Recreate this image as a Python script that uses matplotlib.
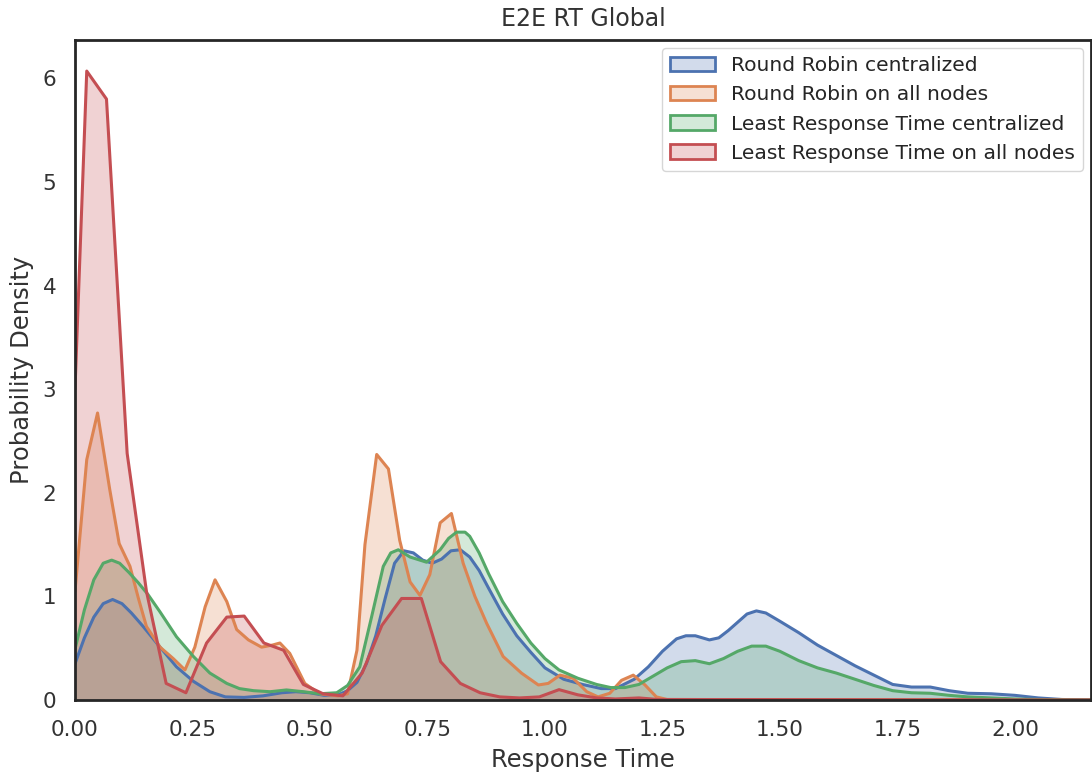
import matplotlib
matplotlib.use('Agg')
import matplotlib.pyplot as plt
import matplotlib.colors as mcolors
import seaborn as sns

sns.set_style('white')
plt.rcParams['font.family'] = ['DejaVu Sans']

labels = ['Round Robin centralized', 'Round Robin on all nodes',
          'Least Response Time centralized', 'Least Response Time on all nodes']
colors = ['#4C72B0', '#DD8452', '#55A868', '#C44E52']

# Round Robin centralized
rr_cent_x = [0.0, 0.02, 0.04, 0.06, 0.08, 0.10, 0.12, 0.145, 0.181, 0.216, 0.252, 0.287,
             0.32, 0.36, 0.40, 0.44, 0.47, 0.50, 0.53, 0.56, 0.58, 0.60, 0.62, 0.64,
             0.66, 0.68, 0.70, 0.72, 0.74, 0.76, 0.78, 0.80, 0.82, 0.84, 0.86, 0.88,
             0.91, 0.94, 0.97, 1.00, 1.04, 1.08, 1.12, 1.15, 1.19, 1.22, 1.25, 1.28,
             1.30, 1.32, 1.35, 1.37, 1.39, 1.41, 1.43, 1.45, 1.47, 1.50, 1.54, 1.58,
             1.62, 1.66, 1.70, 1.74, 1.78, 1.82, 1.86, 1.90, 1.95, 2.00, 2.05, 2.10,
             2.16]
rr_cent_y = [0.35, 0.60, 0.80, 0.93, 0.97, 0.93, 0.84, 0.71, 0.51, 0.32, 0.18, 0.08,
             0.03, 0.025, 0.04, 0.07, 0.08, 0.07, 0.045, 0.05, 0.09, 0.17, 0.35, 0.62,
             0.98, 1.32, 1.44, 1.42, 1.35, 1.32, 1.36, 1.44, 1.45, 1.38, 1.25, 1.08,
             0.83, 0.62, 0.46, 0.31, 0.20, 0.15, 0.11, 0.11, 0.20, 0.32, 0.47, 0.59,
             0.62, 0.62, 0.58, 0.60, 0.67, 0.75, 0.83, 0.86, 0.84, 0.76, 0.65, 0.53,
             0.43, 0.33, 0.24, 0.15, 0.125, 0.125, 0.09, 0.065, 0.06, 0.045, 0.02, 0.005,
             0.0]

# Round Robin on all nodes
rr_all_x = [0.0, 0.025, 0.048, 0.074, 0.094, 0.117, 0.135, 0.152, 0.181, 0.209, 0.234,
            0.255, 0.277, 0.298, 0.323, 0.344, 0.369, 0.397, 0.42, 0.436, 0.457,
            0.489, 0.52, 0.56, 0.58, 0.60, 0.617, 0.642, 0.667, 0.691, 0.713, 0.734,
            0.755, 0.777, 0.801, 0.826, 0.851, 0.876, 0.911, 0.95, 0.986, 1.007, 1.032,
            1.06, 1.089, 1.113, 1.138, 1.163, 1.188, 1.213, 1.237, 1.26, 2.16]
rr_all_y = [1.05, 2.32, 2.77, 2.03, 1.51, 1.29, 0.98, 0.71, 0.51, 0.40, 0.29,
            0.51, 0.90, 1.16, 0.95, 0.68, 0.58, 0.51, 0.53, 0.55, 0.45,
            0.16, 0.06, 0.04, 0.06, 0.48, 1.50, 2.37, 2.23, 1.54, 1.14, 1.01,
            1.21, 1.71, 1.80, 1.32, 1.00, 0.74, 0.42, 0.26, 0.145, 0.16, 0.24,
            0.21, 0.08, 0.03, 0.065, 0.19, 0.24, 0.145, 0.03, 0.005, 0.0]

# Least Response Time centralized
lrt_cent_x = [0.0, 0.02, 0.04, 0.06, 0.078, 0.095, 0.115, 0.135, 0.155, 0.181, 0.216,
              0.252, 0.287, 0.323, 0.35, 0.38, 0.415, 0.45, 0.486, 0.52, 0.557, 0.58,
              0.606, 0.631, 0.656, 0.672, 0.688, 0.713, 0.748, 0.777, 0.795, 0.812, 0.83,
              0.84, 0.86, 0.88, 0.91, 0.94, 0.97, 1.00, 1.03, 1.07, 1.11, 1.14, 1.17,
              1.20, 1.23, 1.26, 1.29, 1.32, 1.35, 1.38, 1.41, 1.44, 1.47, 1.50, 1.54,
              1.58, 1.62, 1.66, 1.70, 1.74, 1.78, 1.82, 1.86, 1.90, 1.95, 2.00, 2.05,
              2.16]
lrt_cent_y = [0.49, 0.87, 1.16, 1.32, 1.35, 1.32, 1.23, 1.13, 1.02, 0.85, 0.61,
              0.42, 0.26, 0.16, 0.11, 0.09, 0.08, 0.097, 0.08, 0.06, 0.07, 0.14,
              0.32, 0.80, 1.29, 1.42, 1.45, 1.38, 1.33, 1.45, 1.56, 1.62, 1.62,
              1.58, 1.42, 1.22, 0.95, 0.74, 0.55, 0.40, 0.29, 0.21, 0.15, 0.12, 0.12,
              0.15, 0.23, 0.31, 0.37, 0.38, 0.35, 0.40, 0.47, 0.52, 0.52, 0.47, 0.38,
              0.31, 0.26, 0.20, 0.14, 0.09, 0.07, 0.065, 0.045, 0.03, 0.02, 0.01, 0.005,
              0.0]

# Least Response Time on all nodes
lrt_all_x = [0.0, 0.025, 0.067, 0.111, 0.152, 0.194, 0.236, 0.28, 0.323, 0.36, 0.402,
             0.444, 0.486, 0.528, 0.57, 0.611, 0.653, 0.695, 0.737, 0.778, 0.82, 0.862,
             0.904, 0.946, 0.988, 1.03, 1.07, 1.11, 1.15, 1.2, 1.24, 2.16]
lrt_all_y = [3.0, 6.07, 5.80, 2.38, 1.05, 0.16, 0.07, 0.55, 0.80, 0.81, 0.55,
             0.48, 0.15, 0.06, 0.04, 0.26, 0.72, 0.98, 0.98, 0.37, 0.16, 0.07,
             0.03, 0.02, 0.03, 0.10, 0.05, 0.02, 0.01, 0.02, 0.005, 0.0]

series = [(rr_cent_x, rr_cent_y), (rr_all_x, rr_all_y),
          (lrt_cent_x, lrt_cent_y), (lrt_all_x, lrt_all_y)]

fig = plt.figure(figsize=(10.92, 7.76), dpi=100)
ax = fig.add_axes([75 / 1092, 76 / 776, 1016 / 1092, 660 / 776])

for (x, y), c in zip(series, colors):
    ax.fill_between(x, y, color=c, alpha=0.25, linewidth=0)
    ax.plot(x, y, color=c, linewidth=2.2)

# legend entries drawn as shaded boxes with a solid outline
handles = [plt.Rectangle((0, 0), 1, 1, facecolor=mcolors.to_rgba(c, 0.25),
                         edgecolor=c, linewidth=2) for c in colors]
ax.legend(handles, labels, loc='upper right', fontsize=14.6, handlelength=2.2,
          borderaxespad=0.4)

ax.set_xlim(0, 2.162)
ax.set_ylim(0, 6.37)
ax.set_xticks([0.0, 0.25, 0.5, 0.75, 1.0, 1.25, 1.5, 1.75, 2.0])
ax.set_xticklabels(['0.00', '0.25', '0.50', '0.75', '1.00', '1.25', '1.50', '1.75', '2.00'])
ax.tick_params(labelsize=15.5, labelcolor='#333333')
ax.tick_params(axis='x', pad=11)
ax.tick_params(axis='y', pad=10)
for s in ax.spines.values():
    s.set_linewidth(2)
    s.set_color('#262626')

ax.set_title('E2E RT Global', fontsize=17, pad=10, color='#333333')
ax.set_xlabel('Response Time', fontsize=17.5, labelpad=6, color='#333333')
ax.set_ylabel('Probability Density', fontsize=17.5, labelpad=6, color='#333333')

fig.savefig('out.png', dpi=100)
